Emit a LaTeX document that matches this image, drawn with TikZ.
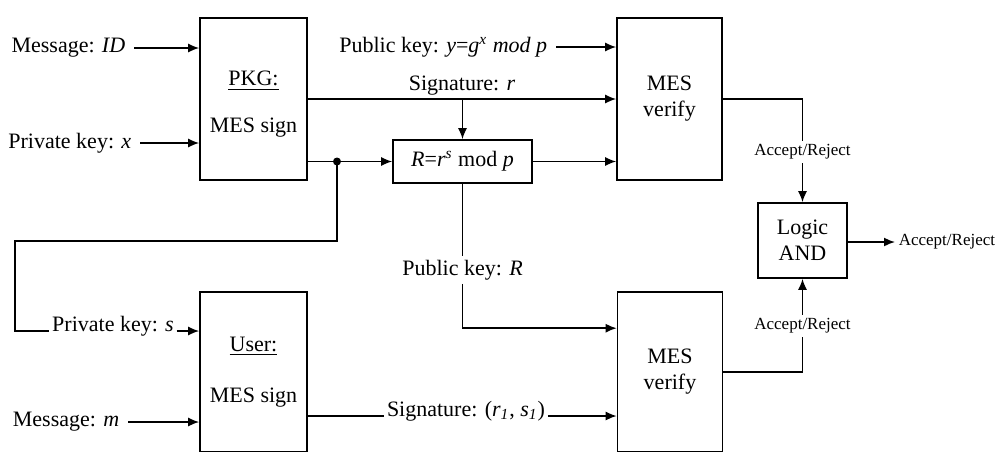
\documentclass[tikz,border=0pt]{standalone}
\usepackage{fontspec}
\setmainfont{Liberation Serif}
\usepackage{tikz}
\usetikzlibrary{arrows.meta}

\begin{document}
\begin{tikzpicture}[x=0.5pt, y=-0.5pt, line width=0.8pt, >={Latex[length=5.5pt,width=4.5pt]},
            blk/.style={draw, rectangle, align=center, inner sep=0pt, font=\fontsize{11}{13}\selectfont},
            lbl/.style={inner sep=1.5pt, font=\fontsize{11}{13}\selectfont},
            inlbl/.style={lbl, anchor=east, inner xsep=4pt},
            arlbl/.style={inner sep=1.5pt, font=\fontsize{8.5}{10}\selectfont}]
            \def\sgnw{53.5pt}
            \def\verw{52.5pt}
            \def\tallh{81pt}
            \useasboundingbox (0,0) rectangle (1000,451);
            \clip (0,0) rectangle (1000,451);
            \node[blk, minimum width=\sgnw, minimum height=\tallh] (pkg) at (253.5,99) {};
            \node[lbl, align=center] (pkgtxt) at (253.5,104.5) {\underline{PKG:}\\[10.5pt]MES sign};
            \node[blk, minimum width=\sgnw, minimum height=80pt] (user) at (253.5,372) {\underline{User:}\\[12.5pt]MES sign};
            \node[blk, minimum width=\verw, minimum height=\tallh] (ver1) at (669.5,99) {MES\\verify};
            \node[blk, minimum width=\verw, minimum height=80pt] (ver2) at (670,372) {MES\\verify};
            \node[blk, minimum width=69.5pt, minimum height=21.5pt] (rbox) at (462.5,161.5) {\textit{R}=\textit{r}\textsuperscript{\textit{s}} mod \textit{p}};
            \node[blk, minimum width=44.5pt, minimum height=37.5pt] (land) at (802.5,240.5) {Logic\\AND};
            \node[inlbl] (msgid) at (134,48) {Message: \textit{ID}};
            \node[inlbl] (privx) at (140,143) {Private key: \textit{x}};
            \node[inlbl] (msgm) at (128,422) {Message: \textit{m}};
            \node[inlbl] (pubkey) at (556,47) {Public key: \textit{y}=\textit{g}\textsuperscript{\textit{x}} \textit{mod p}};
            \node[lbl, anchor=base, inner sep=1pt] (pks) at (113,331) {Private key: \textit{s}};
            \node[lbl, anchor=base, inner sep=1pt] (sig1) at (466,416) {Signature: (\textit{r}\textsubscript{\textit{1}}, \textit{s}\textsubscript{\textit{1}})};
            \node[lbl] (pkr) at (462.5,270) {Public key: \textit{R}};
            \node[arlbl] (acc1) at (802.5,152) {Accept/Reject};
            \node[arlbl] (acc2) at (802.5,326) {Accept/Reject};
            \node[arlbl, anchor=west] (accout) at (895,242) {Accept/Reject};
            \coordinate (jn) at (337,161.5);
            \draw[->] (msgid) -- (msgid -| pkg.west);
            \draw[->] (privx) -- (privx -| pkg.west);
            \draw[->] (msgm) -- (msgm -| user.west);
            \draw[->] (pubkey) -- (pubkey -| ver1.west);
            \draw[->] (pkg.east) -- (ver1.west) node[lbl, midway, above] (sigr) {Signature: \textit{r}};
            \draw[->] (rbox.north |- pkg.east) -- (rbox.north);
            \draw[->] (pkg.east |- rbox) -- (rbox.west);
            \draw[->] (rbox.east) -- (rbox.east -| ver1.west);
            \fill (jn) circle (2pt);
            \draw (jn) |- (15,241) |- (pks.base west);
            \draw[->] (pks.base east) -- (pks.base east -| user.west);
            \draw (sig1.base west -| user.east) -- (sig1.base west);
            \draw[->] (sig1.base east) -- (sig1.base east -| ver2.west);
            \draw (rbox.south) -- (pkr.north);
            \draw[->] (pkr.south) |- ([yshift=-18.5pt]ver2.north west);
            \draw (ver1.east) -| (acc1.north);
            \draw[->] (acc1.south) -- (land.north);
            \draw (ver2.east) -| (acc2.south);
            \draw[->] (acc2.north) -- (land.south);
            \draw[->] (land.east |- accout) -- (accout.west);
\end{tikzpicture}
\end{document}
